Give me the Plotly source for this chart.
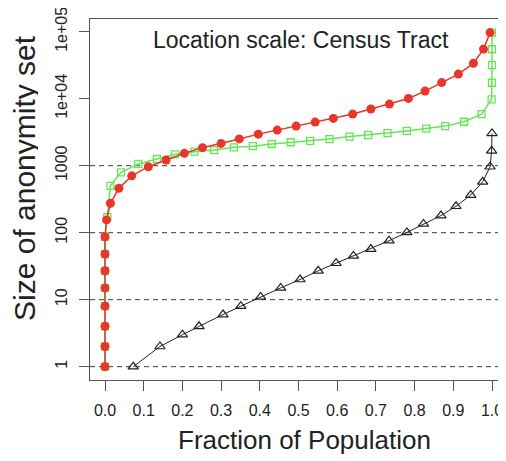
import plotly.graph_objects as go

# ---- data ----
red_x = [0, 0, 0, 0, 0, 0, 0, 0, 0.004, 0.014, 0.036, 0.069, 0.112, 0.158, 0.205,
         0.252, 0.300, 0.347, 0.396, 0.445, 0.494, 0.543, 0.590, 0.640, 0.687,
         0.735, 0.784, 0.827, 0.870, 0.913, 0.952, 0.978, 0.995]
red_y = [1, 2, 4, 8, 15, 27, 48, 87, 155, 275, 460, 705, 966, 1217, 1530,
         1860, 2150, 2510, 2960, 3400, 3900, 4480, 5080, 5900, 7030,
         8320, 10100, 13000, 17400, 23300, 33700, 55000, 97000]

green_x = [0, 0, 0, 0, 0, 0, 0, 0, 0.006, 0.014, 0.041, 0.086, 0.134, 0.181, 0.231,
           0.282, 0.333, 0.382, 0.431, 0.480, 0.530, 0.580, 0.632, 0.680, 0.730,
           0.780, 0.830, 0.879, 0.928, 0.973, 0.999, 1.0, 1.0, 1.0, 1.0]
green_y = [1, 2, 4, 8, 15, 27, 48, 87, 170, 500, 796, 1060, 1260, 1480, 1620,
           1710, 1880, 1960, 2110, 2240, 2340, 2500, 2720, 2860, 3070,
           3300, 3570, 3900, 4530, 5900, 9800, 17300, 31700, 54800, 97000]

black_x = [0.073, 0.142, 0.200, 0.243, 0.305, 0.351, 0.402, 0.454, 0.504, 0.551,
           0.597, 0.642, 0.687, 0.734, 0.780, 0.823, 0.868, 0.907, 0.945, 0.976,
           0.995, 0.999, 1.0]
black_y = [1, 2, 3, 4, 6, 8, 11, 15, 20, 27, 35, 45, 57, 76, 101, 135, 180, 248,
           365, 575, 965, 1670, 3030]

hlines = [1, 10, 100, 1000]

x_ticks = [0.0, 0.1, 0.2, 0.3, 0.4, 0.5, 0.6, 0.7, 0.8, 0.9, 1.0]
x_ticklabels = ["0.0", "0.1", "0.2", "0.3", "0.4", "0.5", "0.6", "0.7", "0.8", "0.9", "1.0"]
y_ticks = [1, 10, 100, 1000, 10000, 100000]
y_ticklabels = ["1", "10", "100", "1000", "1e+04", "1e+05"]

title_text = "Location scale: Census Tract"
x_title = "Fraction of Population"
y_title = "Size of anonymity set"

FONT = "Liberation Sans, Arial, Helvetica, sans-serif"
RED = "#e8362a"
GREEN = "#66e655"
BLACK = "#222222"

fig = go.Figure()

fig.add_trace(go.Scatter(
    x=black_x, y=black_y, mode="lines+markers",
    line=dict(color=BLACK, width=1),
    marker=dict(symbol="triangle-up-open", size=9, color=BLACK, line=dict(width=1.2)),
    showlegend=False, cliponaxis=False))

fig.add_trace(go.Scatter(
    x=green_x, y=green_y, mode="lines+markers",
    line=dict(color=GREEN, width=1.5),
    marker=dict(symbol="square-open", size=7, color=GREEN, line=dict(width=1.3)),
    showlegend=False, cliponaxis=False))

fig.add_trace(go.Scatter(
    x=red_x, y=red_y, mode="lines+markers",
    line=dict(color=RED, width=1.5),
    marker=dict(symbol="circle", size=9, color=RED),
    showlegend=False, cliponaxis=False))

for h in hlines:
    fig.add_shape(type="line", xref="paper", x0=0, x1=1, yref="y", y0=h, y1=h,
                  line=dict(color="#3d3550", width=1, dash="5px,4px"), layer="below")

# The page places the figure 8px in from the top-left (default body margin),
# so the figure is 8px smaller and all page positions are shifted by 8.
OFF = 8
W, H = 506 - OFF, 461 - OFF
L = 90 - OFF
T = 19 - OFF
R = 0
B = H - (380 - OFF)
pw, ph = W - L - R, H - T - B

def px_x(p):  # page pixel -> paper
    return (p - OFF - L) / pw

def px_y(p):
    return (H - B - (p - OFF)) / ph

fig.update_layout(
    width=W, height=H,
    margin=dict(l=L, r=R, t=T, b=B, pad=0, autoexpand=False),
    paper_bgcolor="white", plot_bgcolor="white",
    font=dict(family=FONT, color="#222222", size=16),
    xaxis=dict(range=[-15 / 387, (506 - 105) / 387], tickvals=x_ticks, ticktext=x_ticklabels,
               automargin=False, ticklabeloverflow="allow",
               showgrid=False, zeroline=False, showline=True, mirror=True,
               linecolor="#555555", linewidth=1.2, ticks="outside", ticklen=10,
               tickcolor="#555555", tickwidth=1.2, tickfont=dict(size=16),
               ticklabelstandoff=6),
    yaxis=dict(type="log", range=[-0.199, 5.19], tickvals=y_ticks, ticktext=y_ticklabels,
               automargin=False, ticklabeloverflow="allow",
               showgrid=False, zeroline=False, showline=True, mirror=False,
               linecolor="#555555", linewidth=1.2, ticks="outside", ticklen=10,
               tickcolor="#555555", tickwidth=1.2, tickangle=-90, tickfont=dict(size=16),
               ticklabelstandoff=6),
    annotations=[
        dict(text=title_text, xref="paper", yref="paper", x=px_x(301), y=px_y(40),
             showarrow=False, font=dict(size=23, family=FONT, color="#222222"),
             xanchor="center", yanchor="middle"),
        dict(text=x_title, xref="paper", yref="paper", x=px_x(304), y=px_y(440),
             showarrow=False, font=dict(size=26, family=FONT, color="#222222"),
             xanchor="center", yanchor="middle"),
        dict(text=y_title, xref="paper", yref="paper", x=px_x(24), y=px_y(178),
             showarrow=False, textangle=-90, height=28, borderpad=0,
             font=dict(size=30, family=FONT, color="#222222"),
             xanchor="center", yanchor="middle"),
    ],
)

fig.write_html("out.html")
